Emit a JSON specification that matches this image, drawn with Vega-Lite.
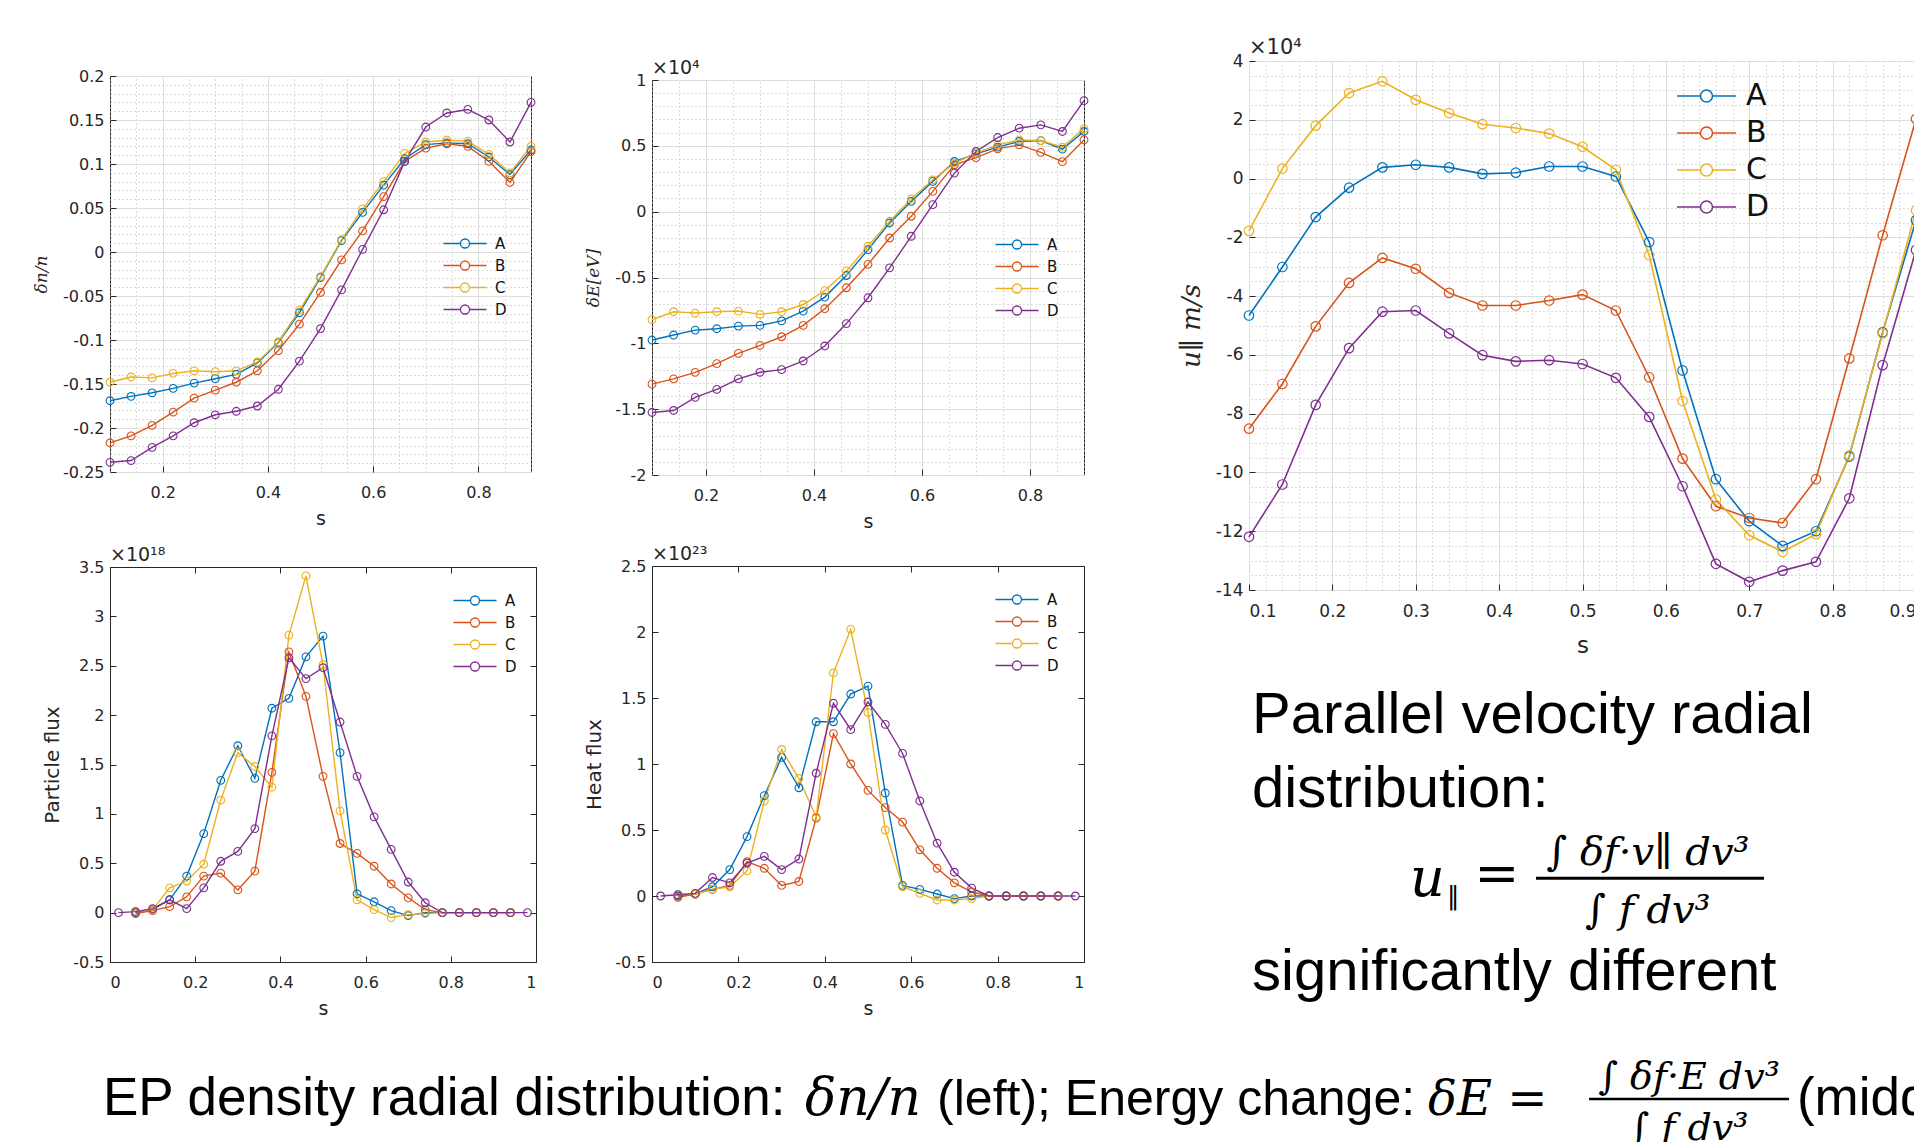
{
"$schema": "https://vega.github.io/schema/vega-lite/v6.json",
"background": "white",
"padding": {"left": 32, "top": 25, "right": -10, "bottom": -1},
"config": {
 "view": {"stroke": null},
 "font": "DejaVu Sans",
 "axis": {"labelFont": "DejaVu Sans", "labelFontSize": 16, "labelColor": "#262626", "titleFont": "DejaVu Sans", "titleFontSize": 19, "titleFontWeight": "normal", "titleColor": "#262626", "domain": false, "tickColor": "#262626", "tickSize": -6, "labelPadding": 12, "gridColor": "#dedede", "gridWidth": 1},
 "axisBottom": {"labelPadding": 18, "titlePadding": 9},
 "legend": {"labelFont": "DejaVu Sans", "labelColor": "#111111", "padding": 0},
 "title": {"font": "DejaVu Sans", "fontSize": 19, "fontWeight": "normal", "color": "#262626", "anchor": "start", "frame": "group", "offset": -6}
},
"datasets": {
 "dn": [
  {"s":0.1,"A":-0.169,"B":-0.217,"C":-0.148,"D":-0.239},
  {"s":0.14,"A":-0.164,"B":-0.209,"C":-0.142,"D":-0.237},
  {"s":0.18,"A":-0.160,"B":-0.197,"C":-0.143,"D":-0.222},
  {"s":0.22,"A":-0.155,"B":-0.182,"C":-0.138,"D":-0.209},
  {"s":0.26,"A":-0.149,"B":-0.166,"C":-0.135,"D":-0.194},
  {"s":0.3,"A":-0.144,"B":-0.157,"C":-0.136,"D":-0.185},
  {"s":0.34,"A":-0.139,"B":-0.148,"C":-0.135,"D":-0.181},
  {"s":0.38,"A":-0.126,"B":-0.135,"C":-0.125,"D":-0.175},
  {"s":0.42,"A":-0.103,"B":-0.112,"C":-0.102,"D":-0.156},
  {"s":0.46,"A":-0.069,"B":-0.082,"C":-0.066,"D":-0.124},
  {"s":0.5,"A":-0.029,"B":-0.046,"C":-0.028,"D":-0.087},
  {"s":0.54,"A":0.013,"B":-0.009,"C":0.014,"D":-0.043},
  {"s":0.58,"A":0.045,"B":0.024,"C":0.049,"D":0.003},
  {"s":0.62,"A":0.076,"B":0.063,"C":0.080,"D":0.048},
  {"s":0.66,"A":0.106,"B":0.103,"C":0.112,"D":0.103},
  {"s":0.7,"A":0.122,"B":0.118,"C":0.125,"D":0.142},
  {"s":0.74,"A":0.124,"B":0.123,"C":0.127,"D":0.158},
  {"s":0.78,"A":0.123,"B":0.120,"C":0.126,"D":0.162},
  {"s":0.82,"A":0.108,"B":0.103,"C":0.111,"D":0.150},
  {"s":0.86,"A":0.088,"B":0.079,"C":0.090,"D":0.125},
  {"s":0.9,"A":0.116,"B":0.114,"C":0.120,"D":0.170}
 ],
 "dE": [
  {"s":0.1,"A":-0.975,"B":-1.31,"C":-0.82,"D":-1.525},
  {"s":0.14,"A":-0.937,"B":-1.27,"C":-0.76,"D":-1.51},
  {"s":0.18,"A":-0.90,"B":-1.22,"C":-0.77,"D":-1.41},
  {"s":0.22,"A":-0.889,"B":-1.154,"C":-0.76,"D":-1.35},
  {"s":0.26,"A":-0.869,"B":-1.076,"C":-0.755,"D":-1.27},
  {"s":0.3,"A":-0.864,"B":-1.015,"C":-0.78,"D":-1.22},
  {"s":0.34,"A":-0.83,"B":-0.95,"C":-0.76,"D":-1.20},
  {"s":0.38,"A":-0.755,"B":-0.864,"C":-0.705,"D":-1.134},
  {"s":0.42,"A":-0.649,"B":-0.737,"C":-0.60,"D":-1.02},
  {"s":0.46,"A":-0.485,"B":-0.578,"C":-0.45,"D":-0.85},
  {"s":0.5,"A":-0.288,"B":-0.40,"C":-0.263,"D":-0.654},
  {"s":0.54,"A":-0.086,"B":-0.20,"C":-0.073,"D":-0.427},
  {"s":0.58,"A":0.078,"B":-0.035,"C":0.096,"D":-0.187},
  {"s":0.62,"A":0.23,"B":0.154,"C":0.242,"D":0.053},
  {"s":0.66,"A":0.381,"B":0.356,"C":0.369,"D":0.293},
  {"s":0.7,"A":0.439,"B":0.41,"C":0.444,"D":0.457},
  {"s":0.74,"A":0.49,"B":0.477,"C":0.507,"D":0.563},
  {"s":0.78,"A":0.533,"B":0.507,"C":0.545,"D":0.634},
  {"s":0.82,"A":0.54,"B":0.45,"C":0.54,"D":0.659},
  {"s":0.86,"A":0.475,"B":0.38,"C":0.49,"D":0.609},
  {"s":0.9,"A":0.609,"B":0.545,"C":0.629,"D":0.843}
 ],
 "u": [
  {"s":0.1,"A":-4.66,"B":-8.51,"C":-1.78,"D":-12.19},
  {"s":0.14,"A":-3.01,"B":-6.99,"C":0.34,"D":-10.41},
  {"s":0.18,"A":-1.31,"B":-5.03,"C":1.80,"D":-7.70},
  {"s":0.22,"A":-0.31,"B":-3.55,"C":2.91,"D":-5.77},
  {"s":0.26,"A":0.38,"B":-2.70,"C":3.31,"D":-4.53},
  {"s":0.3,"A":0.47,"B":-3.07,"C":2.68,"D":-4.49},
  {"s":0.34,"A":0.38,"B":-3.89,"C":2.23,"D":-5.27},
  {"s":0.38,"A":0.16,"B":-4.32,"C":1.85,"D":-6.01},
  {"s":0.42,"A":0.20,"B":-4.32,"C":1.72,"D":-6.22},
  {"s":0.46,"A":0.41,"B":-4.15,"C":1.53,"D":-6.18},
  {"s":0.5,"A":0.41,"B":-3.95,"C":1.08,"D":-6.31},
  {"s":0.54,"A":0.07,"B":-4.49,"C":0.30,"D":-6.78},
  {"s":0.58,"A":-2.16,"B":-6.76,"C":-2.61,"D":-8.11},
  {"s":0.62,"A":-6.53,"B":-9.53,"C":-7.57,"D":-10.47},
  {"s":0.66,"A":-10.23,"B":-11.15,"C":-10.92,"D":-13.11},
  {"s":0.7,"A":-11.66,"B":-11.55,"C":-12.14,"D":-13.72},
  {"s":0.74,"A":-12.5,"B":-11.72,"C":-12.70,"D":-13.34},
  {"s":0.78,"A":-12.0,"B":-10.23,"C":-12.1,"D":-13.04},
  {"s":0.82,"A":-9.46,"B":-6.12,"C":-9.42,"D":-10.88},
  {"s":0.86,"A":-5.23,"B":-1.93,"C":-5.27,"D":-6.35},
  {"s":0.9,"A":-1.42,"B":2.03,"C":-1.08,"D":-2.43}
 ],
 "pf": [
  {"s":0.02,"D":0},
  {"s":0.06,"A":0.00,"B":-0.01,"C":0.01,"D":0.01},
  {"s":0.1,"A":0.03,"B":0.02,"C":0.03,"D":0.04},
  {"s":0.14,"A":0.13,"B":0.06,"C":0.25,"D":0.13},
  {"s":0.18,"A":0.37,"B":0.16,"C":0.32,"D":0.04},
  {"s":0.22,"A":0.80,"B":0.37,"C":0.49,"D":0.25},
  {"s":0.26,"A":1.34,"B":0.40,"C":1.14,"D":0.52},
  {"s":0.3,"A":1.69,"B":0.23,"C":1.62,"D":0.62},
  {"s":0.34,"A":1.36,"B":0.42,"C":1.48,"D":0.85},
  {"s":0.38,"A":2.07,"B":1.42,"C":1.27,"D":1.79},
  {"s":0.42,"A":2.17,"B":2.64,"C":2.81,"D":2.58},
  {"s":0.46,"A":2.59,"B":2.19,"C":3.41,"D":2.37},
  {"s":0.5,"A":2.80,"B":1.38,"C":2.51,"D":2.48},
  {"s":0.54,"A":1.62,"B":0.70,"C":1.03,"D":1.93},
  {"s":0.58,"A":0.19,"B":0.60,"C":0.13,"D":1.38},
  {"s":0.62,"A":0.11,"B":0.47,"C":0.03,"D":0.97},
  {"s":0.66,"A":0.02,"B":0.29,"C":-0.05,"D":0.64},
  {"s":0.7,"A":-0.03,"B":0.15,"C":-0.02,"D":0.31},
  {"s":0.74,"A":0,"B":0.03,"C":-0.01,"D":0.10},
  {"s":0.78,"A":0,"B":0,"C":0,"D":0},
  {"s":0.82,"A":0,"B":0,"C":0,"D":0},
  {"s":0.86,"A":0,"B":0,"C":0,"D":0},
  {"s":0.9,"A":0,"B":0,"C":0,"D":0},
  {"s":0.94,"A":0,"B":0,"C":0,"D":0},
  {"s":0.98,"D":0}
 ],
 "hf": [
  {"s":0.02,"D":0},
  {"s":0.06,"A":0,"B":-0.01,"C":0.01,"D":0.01},
  {"s":0.1,"A":0.015,"B":0.015,"C":0.015,"D":0.02},
  {"s":0.14,"A":0.07,"B":0.05,"C":0.05,"D":0.14},
  {"s":0.18,"A":0.20,"B":0.08,"C":0.07,"D":0.10},
  {"s":0.22,"A":0.45,"B":0.26,"C":0.19,"D":0.25},
  {"s":0.26,"A":0.76,"B":0.21,"C":0.72,"D":0.30},
  {"s":0.3,"A":1.05,"B":0.08,"C":1.11,"D":0.20},
  {"s":0.34,"A":0.82,"B":0.11,"C":0.89,"D":0.28},
  {"s":0.38,"A":1.32,"B":0.59,"C":0.60,"D":0.93},
  {"s":0.42,"A":1.32,"B":1.23,"C":1.69,"D":1.46},
  {"s":0.46,"A":1.53,"B":1.00,"C":2.02,"D":1.26},
  {"s":0.5,"A":1.59,"B":0.80,"C":1.39,"D":1.47},
  {"s":0.54,"A":0.78,"B":0.67,"C":0.50,"D":1.30},
  {"s":0.58,"A":0.08,"B":0.56,"C":0.07,"D":1.08},
  {"s":0.62,"A":0.05,"B":0.35,"C":0.02,"D":0.72},
  {"s":0.66,"A":0.015,"B":0.21,"C":-0.03,"D":0.40},
  {"s":0.7,"A":-0.02,"B":0.10,"C":-0.03,"D":0.18},
  {"s":0.74,"A":0,"B":0.03,"C":-0.02,"D":0.06},
  {"s":0.78,"A":0,"B":0,"C":0,"D":0},
  {"s":0.82,"A":0,"B":0,"C":0,"D":0},
  {"s":0.86,"A":0,"B":0,"C":0,"D":0},
  {"s":0.9,"A":0,"B":0,"C":0,"D":0},
  {"s":0.94,"A":0,"B":0,"C":0,"D":0},
  {"s":0.98,"D":0}
 ]
},
"spacing": 10,
"resolve": {"scale": {"color": "independent"}, "legend": {"color": "independent"}},
"vconcat": [
 {
  "spacing": 86,
  "resolve": {"scale": {"color": "independent"}, "legend": {"color": "independent"}},
  "hconcat": [
   {
    "spacing": 46,
    "resolve": {"scale": {"color": "independent"}, "legend": {"color": "independent"}},
    "hconcat": [
     {
      "spacing": 0,
      "resolve": {"scale": {"color": "independent"}, "legend": {"color": "independent"}},
      "vconcat": [
       {"width": 1, "height": 42, "data": {"values": [{}]}, "mark": {"type": "point", "opacity": 0}},
       {
        "bounds": "flush",
        "spacing": 95,
        "resolve": {"scale": {"color": "independent"}, "legend": {"color": "independent"}},
        "vconcat": [
         {
          "width": 421, "height": 396,
          "view": {"stroke": "#262626"},
          "data": {"name": "dn"},
          "transform": [{"fold": ["A","B","C","D"], "as": ["k","v"]}],
          "resolve": {"axis": {"x": "independent", "y": "independent"}},
          "layer": [
           {
            "mark": {"type": "point", "opacity": 0},
            "encoding": {
             "x": {"field": "s", "type": "quantitative", "scale": {"domain": [0.1,0.9], "nice": false}, "axis": {"orient": "top", "values": [0.1,0.15,0.2,0.25,0.3,0.35,0.4,0.45,0.5,0.55,0.6,0.65,0.7,0.75,0.8,0.85,0.9], "grid": true, "gridDash": [1,3], "gridColor": "#b8b8b8", "labels": false, "ticks": false, "domain": false, "title": null}},
             "y": {"field": "v", "type": "quantitative", "scale": {"domain": [-0.25,0.2], "nice": false, "zero": false}, "axis": {"orient": "right", "values": [-0.25,-0.24,-0.23,-0.22,-0.21,-0.2,-0.19,-0.18,-0.17,-0.16,-0.15,-0.14,-0.13,-0.12,-0.11,-0.1,-0.09,-0.08,-0.07,-0.06,-0.05,-0.04,-0.03,-0.02,-0.01,0,0.01,0.02,0.03,0.04,0.05,0.06,0.07,0.08,0.09,0.1,0.11,0.12,0.13,0.14,0.15,0.16,0.17,0.18,0.19,0.2], "grid": true, "gridDash": [1,3], "gridColor": "#b8b8b8", "labels": false, "ticks": false, "domain": false, "title": null}}
            }
           },
           {
            "mark": {"type": "line", "strokeWidth": 1.4, "point": {"filled": false, "size": 60, "strokeWidth": 1.1}},
            "encoding": {
             "x": {"field": "s", "type": "quantitative", "scale": {"domain": [0.1,0.9], "nice": false}, "axis": {"orient": "bottom", "values": [0.2,0.4,0.6,0.8], "grid": true, "title": "s", "labelExpr": "'' + datum.value"}},
             "y": {"field": "v", "type": "quantitative", "scale": {"domain": [-0.25,0.2], "nice": false, "zero": false}, "axis": {"orient": "left", "values": [-0.25,-0.2,-0.15,-0.1,-0.05,0,0.05,0.1,0.15,0.2], "grid": true, "title": "δn/n", "titleFont": "DejaVu Serif", "titleFontStyle": "italic", "titleFontSize": 17, "titlePadding": 12, "labelExpr": "'' + datum.value"}},
             "color": {"field": "k", "type": "nominal", "scale": {"domain": ["A","B","C","D"], "range": ["#0072BD","#D95319","#EDB120","#7E2F8E"]}, "legend": {"orient": "none", "legendX": 368, "legendY": 160, "title": null, "symbolType": "M-8.4,0H-5M-3.2,0H0.2M-3.2,0A0.9,0.9,0,1,1,-5,0A0.9,0.9,0,1,1,-3.2,0", "symbolSize": 100, "symbolStrokeWidth": 1.3, "symbolFillColor": "transparent", "labelFontSize": 15, "labelOffset": 2, "rowPadding": 6}}
            }
           }
          ]
         },
         {
          "width": 426, "height": 395,
          "title": {"text": "×10¹⁸"},
          "view": {"stroke": "#262626"},
          "data": {"name": "pf"},
          "transform": [{"fold": ["A","B","C","D"], "as": ["k","v"]}],
          "resolve": {"axis": {"x": "independent", "y": "independent"}},
          "layer": [
           {
            "mark": {"type": "point", "opacity": 0},
            "encoding": {
             "x": {"field": "s", "type": "quantitative", "scale": {"domain": [0,1], "nice": false}, "axis": {"orient": "top", "values": [0,0.2,0.4,0.6,0.8,1], "grid": false, "labels": false, "domain": false, "title": null}},
             "y": {"field": "v", "type": "quantitative", "scale": {"domain": [-0.5,3.5], "nice": false, "zero": false}, "axis": {"orient": "right", "values": [-0.5,0,0.5,1,1.5,2,2.5,3,3.5], "grid": false, "labels": false, "domain": false, "title": null}}
            }
           },
           {
            "mark": {"type": "line", "strokeWidth": 1.4, "point": {"filled": false, "size": 60, "strokeWidth": 1.1}},
            "encoding": {
             "x": {"field": "s", "type": "quantitative", "scale": {"domain": [0,1], "nice": false}, "axis": {"orient": "bottom", "values": [0,0.2,0.4,0.6,0.8,1], "grid": false, "title": "s", "labelExpr": "'' + datum.value"}},
             "y": {"field": "v", "type": "quantitative", "scale": {"domain": [-0.5,3.5], "nice": false, "zero": false}, "axis": {"orient": "left", "values": [-0.5,0,0.5,1,1.5,2,2.5,3,3.5], "grid": false, "title": "Particle flux", "titleFontSize": 20, "titlePadding": 10, "labelExpr": "'' + datum.value"}},
             "color": {"field": "k", "type": "nominal", "scale": {"domain": ["A","B","C","D"], "range": ["#0072BD","#D95319","#EDB120","#7E2F8E"]}, "legend": {"orient": "none", "legendX": 378, "legendY": 26, "title": null, "symbolType": "M-8.4,0H-5M-3.2,0H0.2M-3.2,0A0.9,0.9,0,1,1,-5,0A0.9,0.9,0,1,1,-3.2,0", "symbolSize": 100, "symbolStrokeWidth": 1.3, "symbolFillColor": "transparent", "labelFontSize": 15, "labelOffset": 2, "rowPadding": 6}}
            }
           }
          ]
         }
        ]
       }
      ]
     },
     {
      "spacing": 0,
      "resolve": {"scale": {"color": "independent"}, "legend": {"color": "independent"}},
      "vconcat": [
       {"width": 1, "height": 33, "data": {"values": [{}]}, "mark": {"type": "point", "opacity": 0}},
       {
        "bounds": "flush",
        "spacing": 91,
        "resolve": {"scale": {"color": "independent"}, "legend": {"color": "independent"}},
        "vconcat": [
         {
          "width": 432, "height": 395,
          "title": {"text": "×10⁴"},
          "view": {"stroke": "#262626"},
          "data": {"name": "dE"},
          "transform": [{"fold": ["A","B","C","D"], "as": ["k","v"]}],
          "resolve": {"axis": {"x": "independent", "y": "independent"}},
          "layer": [
           {
            "mark": {"type": "point", "opacity": 0},
            "encoding": {
             "x": {"field": "s", "type": "quantitative", "scale": {"domain": [0.1,0.9], "nice": false}, "axis": {"orient": "top", "values": [0.1,0.15,0.2,0.25,0.3,0.35,0.4,0.45,0.5,0.55,0.6,0.65,0.7,0.75,0.8,0.85,0.9], "grid": true, "gridDash": [1,3], "gridColor": "#b8b8b8", "labels": false, "ticks": false, "domain": false, "title": null}},
             "y": {"field": "v", "type": "quantitative", "scale": {"domain": [-2,1], "nice": false, "zero": false}, "axis": {"orient": "right", "values": [-2,-1.9,-1.8,-1.7,-1.6,-1.5,-1.4,-1.3,-1.2,-1.1,-1,-0.9,-0.8,-0.7,-0.6,-0.5,-0.4,-0.3,-0.2,-0.1,0,0.1,0.2,0.3,0.4,0.5,0.6,0.7,0.8,0.9,1], "grid": true, "gridDash": [1,3], "gridColor": "#b8b8b8", "labels": false, "ticks": false, "domain": false, "title": null}}
            }
           },
           {
            "mark": {"type": "line", "strokeWidth": 1.4, "point": {"filled": false, "size": 60, "strokeWidth": 1.1}},
            "encoding": {
             "x": {"field": "s", "type": "quantitative", "scale": {"domain": [0.1,0.9], "nice": false}, "axis": {"orient": "bottom", "values": [0.2,0.4,0.6,0.8], "grid": true, "title": "s", "labelExpr": "'' + datum.value"}},
             "y": {"field": "v", "type": "quantitative", "scale": {"domain": [-2,1], "nice": false, "zero": false}, "axis": {"orient": "left", "values": [-2,-1.5,-1,-0.5,0,0.5,1], "grid": true, "title": "δE[eV]", "titleFont": "DejaVu Serif", "titleFontStyle": "italic", "titleFontSize": 17, "titlePadding": 12, "labelExpr": "'' + datum.value"}},
             "color": {"field": "k", "type": "nominal", "scale": {"domain": ["A","B","C","D"], "range": ["#0072BD","#D95319","#EDB120","#7E2F8E"]}, "legend": {"orient": "none", "legendX": 378, "legendY": 157, "title": null, "symbolType": "M-8.4,0H-5M-3.2,0H0.2M-3.2,0A0.9,0.9,0,1,1,-5,0A0.9,0.9,0,1,1,-3.2,0", "symbolSize": 100, "symbolStrokeWidth": 1.3, "symbolFillColor": "transparent", "labelFontSize": 15, "labelOffset": 2, "rowPadding": 6}}
            }
           }
          ]
         },
         {
          "width": 432, "height": 396,
          "title": {"text": "×10²³"},
          "view": {"stroke": "#262626"},
          "data": {"name": "hf"},
          "transform": [{"fold": ["A","B","C","D"], "as": ["k","v"]}],
          "resolve": {"axis": {"x": "independent", "y": "independent"}},
          "layer": [
           {
            "mark": {"type": "point", "opacity": 0},
            "encoding": {
             "x": {"field": "s", "type": "quantitative", "scale": {"domain": [0,1], "nice": false}, "axis": {"orient": "top", "values": [0,0.2,0.4,0.6,0.8,1], "grid": false, "labels": false, "domain": false, "title": null}},
             "y": {"field": "v", "type": "quantitative", "scale": {"domain": [-0.5,2.5], "nice": false, "zero": false}, "axis": {"orient": "right", "values": [-0.5,0,0.5,1,1.5,2,2.5], "grid": false, "labels": false, "domain": false, "title": null}}
            }
           },
           {
            "mark": {"type": "line", "strokeWidth": 1.4, "point": {"filled": false, "size": 60, "strokeWidth": 1.1}},
            "encoding": {
             "x": {"field": "s", "type": "quantitative", "scale": {"domain": [0,1], "nice": false}, "axis": {"orient": "bottom", "values": [0,0.2,0.4,0.6,0.8,1], "grid": false, "title": "s", "labelExpr": "'' + datum.value"}},
             "y": {"field": "v", "type": "quantitative", "scale": {"domain": [-0.5,2.5], "nice": false, "zero": false}, "axis": {"orient": "left", "values": [-0.5,0,0.5,1,1.5,2,2.5], "grid": false, "title": "Heat flux", "titleFontSize": 20, "titlePadding": 10, "labelExpr": "'' + datum.value"}},
             "color": {"field": "k", "type": "nominal", "scale": {"domain": ["A","B","C","D"], "range": ["#0072BD","#D95319","#EDB120","#7E2F8E"]}, "legend": {"orient": "none", "legendX": 378, "legendY": 26, "title": null, "symbolType": "M-8.4,0H-5M-3.2,0H0.2M-3.2,0A0.9,0.9,0,1,1,-5,0A0.9,0.9,0,1,1,-3.2,0", "symbolSize": 100, "symbolStrokeWidth": 1.3, "symbolFillColor": "transparent", "labelFontSize": 15, "labelOffset": 2, "rowPadding": 6}}
            }
           }
          ]
         }
        ]
       }
      ]
     }
    ]
   },
   {
    "spacing": 0,
    "resolve": {"scale": {"color": "independent"}, "legend": {"color": "independent"}},
    "vconcat": [
     {"width": 1, "height": 11, "data": {"values": [{}]}, "mark": {"type": "point", "opacity": 0}},
     {
      "bounds": "flush",
      "spacing": 60,
      "resolve": {"scale": {"color": "independent"}, "legend": {"color": "independent"}},
      "vconcat": [
       {
        "width": 667, "height": 529,
        "title": {"text": "×10⁴", "fontSize": 21},
        "view": {"stroke": "#262626"},
        "data": {"name": "u"},
        "transform": [{"fold": ["A","B","C","D"], "as": ["k","v"]}],
        "resolve": {"axis": {"x": "independent", "y": "independent"}},
        "layer": [
         {
          "mark": {"type": "point", "opacity": 0},
          "encoding": {
           "x": {"field": "s", "type": "quantitative", "scale": {"domain": [0.1,0.9], "nice": false}, "axis": {"orient": "top", "values": [0.1,0.12,0.14,0.16,0.18,0.2,0.22,0.24,0.26,0.28,0.3,0.32,0.34,0.36,0.38,0.4,0.42,0.44,0.46,0.48,0.5,0.52,0.54,0.56,0.58,0.6,0.62,0.64,0.66,0.68,0.7,0.72,0.74,0.76,0.78,0.8,0.82,0.84,0.86,0.88,0.9], "grid": true, "gridDash": [1,3], "gridColor": "#b8b8b8", "labels": false, "ticks": false, "domain": false, "title": null}},
           "y": {"field": "v", "type": "quantitative", "scale": {"domain": [-14,4], "nice": false, "zero": false}, "axis": {"orient": "right", "values": [-14,-13.5,-13,-12.5,-12,-11.5,-11,-10.5,-10,-9.5,-9,-8.5,-8,-7.5,-7,-6.5,-6,-5.5,-5,-4.5,-4,-3.5,-3,-2.5,-2,-1.5,-1,-0.5,0,0.5,1,1.5,2,2.5,3,3.5,4], "grid": true, "gridDash": [1,3], "gridColor": "#b8b8b8", "labels": false, "ticks": false, "domain": false, "title": null}}
          }
         },
         {
          "mark": {"type": "line", "strokeWidth": 1.6, "point": {"filled": false, "size": 90, "strokeWidth": 1.2}},
          "encoding": {
           "x": {"field": "s", "type": "quantitative", "scale": {"domain": [0.1,0.9], "nice": false}, "axis": {"orient": "bottom", "values": [0.1,0.2,0.3,0.4,0.5,0.6,0.7,0.8,0.9], "grid": true, "title": "s", "titleFontSize": 23, "labelPadding": 19, "titlePadding": 15, "labelFontSize": 17, "labelExpr": "'' + datum.value"}},
           "y": {"field": "v", "type": "quantitative", "scale": {"domain": [-14,4], "nice": false, "zero": false}, "axis": {"orient": "left", "values": [-14,-12,-10,-8,-6,-4,-2,0,2,4], "grid": true, "title": "u∥ m/s", "titleFont": "DejaVu Serif", "titleFontStyle": "italic", "titleFontSize": 26, "titlePadding": 11, "labelFontSize": 17, "labelExpr": "'' + datum.value"}},
           "color": {"field": "k", "type": "nominal", "scale": {"domain": ["A","B","C","D"], "range": ["#0072BD","#D95319","#EDB120","#7E2F8E"]}, "legend": {"orient": "none", "legendX": 465, "legendY": 20, "title": null, "symbolType": "M-5.2,0H-2.85M-1.65,0H0.7M-1.65,0A0.6,0.6,0,1,1,-2.85,0A0.6,0.6,0,1,1,-1.65,0", "symbolSize": 400, "symbolStrokeWidth": 1.5, "symbolFillColor": "transparent", "labelFontSize": 30, "labelOffset": 2, "rowPadding": 7}}
          }
         }
        ]
       },
       {
        "width": 667, "height": 370,
        "layer": [
         {"data": {"values": [{"t": "Parallel velocity radial"}]}, "mark": {"type": "text", "font": "Liberation Sans", "fontSize": 58, "align": "left", "baseline": "alphabetic", "color": "black"}, "encoding": {"x": {"datum": 0.0045, "type": "quantitative", "scale": {"domain": [0,1]}, "axis": null}, "y": {"datum": 0.2243, "type": "quantitative", "scale": {"domain": [0,1], "reverse": true}, "axis": null}, "text": {"field": "t"}}},
         {"data": {"values": [{"t": "distribution:"}]}, "mark": {"type": "text", "font": "Liberation Sans", "fontSize": 58, "align": "left", "baseline": "alphabetic", "color": "black"}, "encoding": {"x": {"datum": 0.0045, "type": "quantitative", "scale": {"domain": [0,1]}, "axis": null}, "y": {"datum": 0.4243, "type": "quantitative", "scale": {"domain": [0,1], "reverse": true}, "axis": null}, "text": {"field": "t"}}},
         {"data": {"values": [{"t": "u"}]}, "mark": {"type": "text", "font": "DejaVu Serif", "fontStyle": "italic", "fontSize": 54, "align": "left", "baseline": "alphabetic", "color": "black"}, "encoding": {"x": {"datum": 0.2414, "type": "quantitative", "scale": {"domain": [0,1]}, "axis": null}, "y": {"datum": 0.665, "type": "quantitative", "scale": {"domain": [0,1], "reverse": true}, "axis": null}, "text": {"field": "t"}}},
         {"data": {"values": [{"t": "∥"}]}, "mark": {"type": "text", "font": "DejaVu Sans", "fontSize": 26, "align": "left", "baseline": "alphabetic", "color": "black"}, "encoding": {"x": {"datum": 0.2969, "type": "quantitative", "scale": {"domain": [0,1]}, "axis": null}, "y": {"datum": 0.689, "type": "quantitative", "scale": {"domain": [0,1], "reverse": true}, "axis": null}, "text": {"field": "t"}}},
         {"data": {"values": [{"t": "="}]}, "mark": {"type": "text", "font": "DejaVu Serif", "fontSize": 54, "align": "center", "baseline": "alphabetic", "color": "black"}, "encoding": {"x": {"datum": 0.3718, "type": "quantitative", "scale": {"domain": [0,1]}, "axis": null}, "y": {"datum": 0.654, "type": "quantitative", "scale": {"domain": [0,1], "reverse": true}, "axis": null}, "text": {"field": "t"}}},
         {"data": {"values": [{"t": "∫ δf·v∥ dv³"}]}, "mark": {"type": "text", "font": "DejaVu Serif", "fontStyle": "italic", "fontSize": 40, "align": "center", "baseline": "alphabetic", "color": "black"}, "encoding": {"x": {"datum": 0.5982, "type": "quantitative", "scale": {"domain": [0,1]}, "axis": null}, "y": {"datum": 0.581, "type": "quantitative", "scale": {"domain": [0,1], "reverse": true}, "axis": null}, "text": {"field": "t"}}},
         {"data": {"values": [{}]}, "mark": {"type": "rule", "color": "black", "strokeWidth": 3}, "encoding": {"x": {"datum": 0.4303, "type": "quantitative", "scale": {"domain": [0,1]}, "axis": null}, "x2": {"datum": 0.7721}, "y": {"datum": 0.6166, "type": "quantitative", "scale": {"domain": [0,1], "reverse": true}, "axis": null}}},
         {"data": {"values": [{"t": "∫ f dv³"}]}, "mark": {"type": "text", "font": "DejaVu Serif", "fontStyle": "italic", "fontSize": 40, "align": "center", "baseline": "alphabetic", "color": "black"}, "encoding": {"x": {"datum": 0.5982, "type": "quantitative", "scale": {"domain": [0,1]}, "axis": null}, "y": {"datum": 0.738, "type": "quantitative", "scale": {"domain": [0,1], "reverse": true}, "axis": null}, "text": {"field": "t"}}},
         {"data": {"values": [{"t": "significantly different"}]}, "mark": {"type": "text", "font": "Liberation Sans", "fontSize": 58, "align": "left", "baseline": "alphabetic", "color": "black"}, "encoding": {"x": {"datum": 0.0045, "type": "quantitative", "scale": {"domain": [0,1]}, "axis": null}, "y": {"datum": 0.9189, "type": "quantitative", "scale": {"domain": [0,1], "reverse": true}, "axis": null}, "text": {"field": "t"}}}
        ]
       }
      ]
     }
    ]
   }
  ]
 },
 {
  "width": 1811, "height": 113,
  "layer": [
   {"data": {"values": [{"t": "EP density radial distribution:"}]}, "mark": {"type": "text", "font": "Liberation Sans", "fontSize": 53, "align": "left", "baseline": "alphabetic", "color": "black"}, "encoding": {"x": {"datum": -0.0039, "type": "quantitative", "scale": {"domain": [0,1]}, "axis": null}, "y": {"datum": 0.752, "type": "quantitative", "scale": {"domain": [0,1], "reverse": true}, "axis": null}, "text": {"field": "t"}}},
   {"data": {"values": [{"t": "δn/n"}]}, "mark": {"type": "text", "font": "DejaVu Serif", "fontStyle": "italic", "fontSize": 52, "align": "left", "baseline": "alphabetic", "color": "black"}, "encoding": {"x": {"datum": 0.3838, "type": "quantitative", "scale": {"domain": [0,1]}, "axis": null}, "y": {"datum": 0.752, "type": "quantitative", "scale": {"domain": [0,1], "reverse": true}, "axis": null}, "text": {"field": "t"}}},
   {"data": {"values": [{"t": "(left); Energy change:"}]}, "mark": {"type": "text", "font": "Liberation Sans", "fontSize": 50, "align": "left", "baseline": "alphabetic", "color": "black"}, "encoding": {"x": {"datum": 0.4567, "type": "quantitative", "scale": {"domain": [0,1]}, "axis": null}, "y": {"datum": 0.752, "type": "quantitative", "scale": {"domain": [0,1], "reverse": true}, "axis": null}, "text": {"field": "t"}}},
   {"data": {"values": [{"t": "δE ="}]}, "mark": {"type": "text", "font": "DejaVu Serif", "fontStyle": "italic", "fontSize": 48, "align": "left", "baseline": "alphabetic", "color": "black"}, "encoding": {"x": {"datum": 0.7278, "type": "quantitative", "scale": {"domain": [0,1]}, "axis": null}, "y": {"datum": 0.752, "type": "quantitative", "scale": {"domain": [0,1], "reverse": true}, "axis": null}, "text": {"field": "t"}}},
   {"data": {"values": [{}]}, "mark": {"type": "rule", "color": "black", "strokeWidth": 2.5}, "encoding": {"x": {"datum": 0.8167, "type": "quantitative", "scale": {"domain": [0,1]}, "axis": null}, "x2": {"datum": 0.9271}, "y": {"datum": 0.611, "type": "quantitative", "scale": {"domain": [0,1], "reverse": true}, "axis": null}}},
   {"data": {"values": [{"t": "∫ δf·E dv³"}]}, "mark": {"type": "text", "font": "DejaVu Serif", "fontStyle": "italic", "fontSize": 38, "align": "center", "baseline": "alphabetic", "color": "black"}, "encoding": {"x": {"datum": 0.8719, "type": "quantitative", "scale": {"domain": [0,1]}, "axis": null}, "y": {"datum": 0.522, "type": "quantitative", "scale": {"domain": [0,1], "reverse": true}, "axis": null}, "text": {"field": "t"}}},
   {"data": {"values": [{"t": "∫ f dv³"}]}, "mark": {"type": "text", "font": "DejaVu Serif", "fontStyle": "italic", "fontSize": 38, "align": "center", "baseline": "alphabetic", "color": "black", "clip": true}, "encoding": {"x": {"datum": 0.8719, "type": "quantitative", "scale": {"domain": [0,1]}, "axis": null}, "y": {"datum": 0.973, "type": "quantitative", "scale": {"domain": [0,1], "reverse": true}, "axis": null}, "text": {"field": "t"}}},
   {"data": {"values": [{"t": "(middle)"}]}, "mark": {"type": "text", "font": "Liberation Sans", "fontSize": 53, "align": "left", "baseline": "alphabetic", "color": "black", "clip": true}, "encoding": {"x": {"datum": 0.9315, "type": "quantitative", "scale": {"domain": [0,1]}, "axis": null}, "y": {"datum": 0.752, "type": "quantitative", "scale": {"domain": [0,1], "reverse": true}, "axis": null}, "text": {"field": "t"}}}
  ]
 }
]
}
